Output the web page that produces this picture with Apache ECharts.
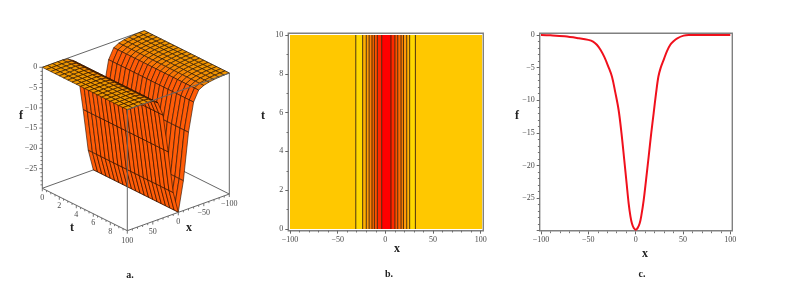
<!DOCTYPE html>
<html><head><meta charset="utf-8">
<style>html,body{margin:0;padding:0;background:#fff}#c{width:793px;height:288px;filter:blur(0.35px)}</style>
<script src="https://cdn.jsdelivr.net/npm/echarts@6/dist/echarts.min.js"></script>
</head><body><div id="c"></div>
<script>
// ---------- data ----------
const surfaceX = [-100,-90,-80,-70,-60,-50,-40,-30,-20,-10,0,10,20,30,40,50,60,70,80,90,100];
const surfaceF = [0,-0.05,-0.12,-0.25,-0.45,-0.8,-1.5,-4,-11,-22.5,-29.8,-24.5,-14,-4.5,-1,-0.2,0,0,0,0,0];
const surfaceT = [0,0.5,1,1.5,2,2.5,3,3.5,4,4.5,5,5.5,6,6.5,7,7.5,8,8.5,9,9.5,10];
const contourX = [-31,-23.8,-20,-17,-14,-11.5,-8.4,-3.8,5.9,10,13,16.5,19,22.4,25.5,31.5];
const bandEdges = [-100,-31,-23.8,-20,-17,-14,-11.5,-8.4,-3.8,5.9,10,13,16.5,19,22.4,25.5,31.5,101.5];
const bandLevels = [0,1,2,3,4,5,6,7,8,7,6,5,4,3,2,1,0];
const curveX = [-100,-90,-75,-60,-50,-45,-41,-37,-33,-29,-25,-21.5,-18,-15,-12,-9.5,-7.4,-5.5,-3.9,-2,0,2,4.2,6,8.5,11,13.7,16.5,19,21.5,24,26.5,29.6,33,36.6,40,44,50.7,56,75,100];
const curveF = [0,-0.05,-0.2,-0.5,-0.75,-1,-1.5,-2.3,-3.4,-4.8,-6.4,-8.8,-11.5,-15,-19.2,-22.8,-25.8,-27.8,-28.9,-29.6,-29.85,-29.6,-28.9,-27.7,-25.3,-22.2,-18.7,-15,-12,-9,-6.4,-5,-3.8,-2.5,-1.5,-0.95,-0.5,-0.1,0,0,0];
const xTicks3D = [-100,-50,0,50,100];
const tTicks3D = [0,2,4,6,8];
const fTicks3D = [0,-5,-10,-15,-20,-25];
const fMin3D = -29.85;

// ---------- styles ----------
const SERIF = '"Liberation Serif","Times New Roman",serif';
const LABEL = '#4a4a4a', AXIS = '#666', FRAME = '#808080';
const bandPalette = ['#ffc800','#ffd800','#ffb000','#ff9a08','#ff8005','#ff6800','#ff5000','#ff2800','#ff0000'];
const minus = v => String(v).replace('-', '\u2212');

// parallel projection of the 3-D box onto the screen plane
function project(x, t, f) {
  return [42.3 + (100 - x) * 0.51 + t * 8.5,
          67.3 - (100 - x) * 0.1833 + t * 4.24 - f * 4.053];
}
function blend(a, b, k) {
  const c = a.map((v, i) => Math.round(v + (b[i] - v) * k));
  return 'rgb(' + c.join(',') + ')';
}

// quads, back (x = -100, t = 0) to front (x = 100, t = 10)
const quads = [];
for (let i = 0; i < surfaceX.length - 1; i++)
  for (let j = 0; j < surfaceT.length - 1; j++) quads.push([i, j]);

function renderQuad(params, api) {
  const i = api.value(0), j = api.value(1);
  const corner = (a, b) => api.coord(project(surfaceX[a], surfaceT[b], surfaceF[a]));
  const slope = Math.abs(surfaceF[i + 1] - surfaceF[i]) / 10;
  return { type: 'polygon',
    shape: { points: [corner(i, j), corner(i + 1, j), corner(i + 1, j + 1), corner(i, j + 1)] },
    style: { fill: blend([240, 152, 0], [255, 92, 8], Math.min(1, slope / 0.12)), stroke: 'rgba(30,12,0,0.85)', lineWidth: 0.7 } };
}

// box edges as pairs of (x,t,f) points
const backEdges = [
  [100,0,0,-100,0,0], [-100,0,0,-100,10,0],
  [100,0,fMin3D,-100,0,fMin3D], [-100,0,fMin3D,-100,10,fMin3D],
  [-100,10,0,-100,10,fMin3D]
];
const frontEdges = [
  [100,0,0,100,0,fMin3D], [100,0,fMin3D,100,10,fMin3D], [100,10,fMin3D,-100,10,fMin3D],
  [100,10,0,100,10,fMin3D], [100,10,0,-100,10,0]
];
function renderEdge(params, api) {
  const a = api.coord(project(api.value(0), api.value(1), api.value(2)));
  const b = api.coord(project(api.value(3), api.value(4), api.value(5)));
  return { type: 'line', shape: { x1: a[0], y1: a[1], x2: b[0], y2: b[1] },
           style: { stroke: AXIS, lineWidth: 1 } };
}
// ticks of the 3-D axes: [x, t, f, length, horizontal, label, label dx, label dy]
const ticks3D = [];
for (let x = -100; x <= 100; x += 10) ticks3D.push([x, 10, fMin3D, x % 50 === 0 ? 3 : 1.8, 0, xTicks3D.includes(x) ? minus(x) : '', 0, 10]);
for (let t = 0; t < 10; t += 0.5) ticks3D.push([100, t, fMin3D, t % 2 === 0 ? 3 : 1.8, 0, tTicks3D.includes(t) ? String(t) : '', 0, 9.5]);
for (let f = 0; f >= -29; f -= 1) ticks3D.push([100, 0, f, f % 5 === 0 ? 3 : 1.8, 1, fTicks3D.includes(f) ? minus(f) : '', -5, 0]);
function renderTick(params, api) {
  const p = api.coord(project(api.value(0), api.value(1), api.value(2)));
  const len = api.value(3), horiz = api.value(4) === 1, txt = api.value(5);
  const kids = [{ type: 'line',
    shape: horiz ? { x1: p[0] - len, y1: p[1], x2: p[0], y2: p[1] } : { x1: p[0], y1: p[1], x2: p[0], y2: p[1] + len },
    style: { stroke: AXIS, lineWidth: 0.9 } }];
  if (txt) kids.push({ type: 'text', x: p[0] + api.value(6), y: p[1] + api.value(7),
    style: { text: txt, fill: LABEL, font: '8px ' + SERIF, align: horiz ? 'right' : 'center', verticalAlign: 'middle' } });
  return { type: 'group', children: kids };
}

// bands of panel b
const bands = bandLevels.map((lv, i) => [bandEdges[i], bandEdges[i + 1], lv]);
function renderBand(params, api) {
  const a = api.coord([api.value(0), 10]), b = api.coord([api.value(1), 0]);
  return { type: 'rect', shape: { x: a[0], y: a[1], width: b[0] - a[0], height: b[1] - a[1] },
           style: { fill: bandPalette[api.value(2)] } };
}
function renderContour(params, api) {
  const a = api.coord([api.value(0), 10]), b = api.coord([api.value(0), 0]);
  return { type: 'line', shape: { x1: a[0], y1: a[1], x2: b[0], y2: b[1] },
           style: { stroke: '#3a2000', lineWidth: 0.9 } };
}

function valueAxis(idx, o, minor) {
  return Object.assign({
    type: 'value', gridIndex: idx, splitLine: { show: false },
    axisLine: { show: false, onZero: false },
    axisTick: { show: true, length: 3, lineStyle: { color: AXIS, width: 1 } },
    minorTick: { show: true, splitNumber: minor, length: 1.8, lineStyle: { color: AXIS, width: 0.9 } },
    axisLabel: { color: LABEL, fontFamily: SERIF, fontSize: 8, margin: 5, formatter: minus, showMinLabel: true, showMaxLabel: true }
  }, o);
}
const hidden = (idx, o) => Object.assign({ type: 'value', gridIndex: idx, show: false }, o);
const word = (text, x, y, size) => ({ type: 'text', x, y,
  style: { text, fill: '#222', font: 'bold ' + size + 'px ' + SERIF, align: 'center', verticalAlign: 'middle' } });

const chart = echarts.init(document.getElementById('c'));
chart.setOption({
  animation: false, backgroundColor: '#fff',
  grid: [
    { left: 0, top: 0, width: 793, height: 288 },
    { left: 288.3, top: 33.3, width: 195, height: 197.4, show: true, borderColor: FRAME, borderWidth: 1.4, backgroundColor: 'transparent' },
    { left: 290, top: 35, width: 190.7, height: 194 },
    { left: 539.7, top: 33.3, width: 192.6, height: 197.4, show: true, borderColor: FRAME, borderWidth: 1.4, backgroundColor: 'transparent' },
    { left: 541, top: 35, width: 189.3, height: 195.7 }
  ],
  xAxis: [
    hidden(0, { min: 0, max: 793 }),
    hidden(1, { min: 0, max: 1 }),
    valueAxis(2, { min: -100, max: 100, interval: 50, offset: 1.7, position: 'bottom' }, 5),
    hidden(3, { min: 0, max: 1 }),
    valueAxis(4, { min: -100, max: 100, interval: 50, offset: 0.7, position: 'bottom' }, 5)
  ],
  yAxis: [
    hidden(0, { min: 0, max: 288, inverse: true }),
    hidden(1, { min: 0, max: 1 }),
    valueAxis(2, { min: 0, max: 10, interval: 2, offset: 1.7, position: 'left' }, 2),
    hidden(3, { min: 0, max: 1 }),
    valueAxis(4, { min: -30, max: 0, interval: 5, offset: 1.3, position: 'left',
      axisLabel: { color: LABEL, fontFamily: SERIF, fontSize: 8, margin: 5,
                   formatter: v => v === -30 ? '' : minus(v) } }, 5)
  ],
  series: [
    { type: 'custom', name: 'box back', xAxisIndex: 0, yAxisIndex: 0, clip: false, z: 2, renderItem: renderEdge, data: backEdges, silent: true },
    { type: 'custom', name: 'surface', xAxisIndex: 0, yAxisIndex: 0, clip: false, z: 3, progressive: 0, renderItem: renderQuad, data: quads, silent: true },
    { type: 'custom', name: 'box front', xAxisIndex: 0, yAxisIndex: 0, clip: false, z: 4, renderItem: renderEdge, data: frontEdges, silent: true },
    { type: 'custom', name: 'ticks', xAxisIndex: 0, yAxisIndex: 0, clip: false, z: 5, progressive: 0, renderItem: renderTick, data: ticks3D, silent: true },
    { type: 'custom', name: 'bands', xAxisIndex: 2, yAxisIndex: 2, clip: false, z: 2, renderItem: renderBand, data: bands, silent: true },
    { type: 'custom', name: 'contours', xAxisIndex: 2, yAxisIndex: 2, clip: false, z: 3, renderItem: renderContour, data: contourX.map(v => [v]), silent: true },
    { type: 'line', name: 'f(x)', xAxisIndex: 4, yAxisIndex: 4, clip: false, symbol: 'none', smooth: 0.35, z: 3,
      lineStyle: { color: '#f0101c', width: 2 }, data: curveX.map((x, i) => [x, curveF[i]]) }
  ],
  graphic: [
    word('f', 21, 116, 12), word('t', 72, 228, 12), word('x', 189, 228, 12), word('a.', 130, 275, 10),
    word('t', 263, 116, 12), word('x', 397, 249, 12), word('b.', 389, 274, 10),
    word('f', 517, 116, 12), word('x', 645, 254, 12), word('c.', 642, 274, 10)
  ]
});
</script></body></html>
